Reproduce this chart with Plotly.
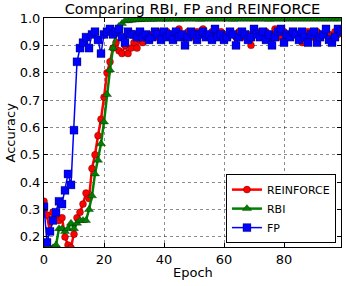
import plotly.graph_objects as go

epochs = list(range(100))

reinforce = [0.33, 0.28, 0.22, 0.29, 0.28, 0.26, 0.27, 0.20, 0.17, 0.16,
             0.21, 0.27, 0.29, 0.32, 0.36, 0.34, 0.45, 0.50, 0.57, 0.63,
             0.71, 0.80, 0.84, 0.89, 0.91, 0.88, 0.87, 0.90, 0.87, 0.89,
             0.91, 0.89, 0.92, 0.91, 0.93, 0.92, 0.94, 0.93, 0.95, 0.94,
             0.93, 0.95, 0.94, 0.93, 0.95, 0.96, 0.94, 0.93, 0.95, 0.94,
             0.93, 0.95, 0.94, 0.96, 0.93, 0.94, 0.95, 0.93, 0.94, 0.95,
             0.94, 0.93, 0.95, 0.94, 0.93, 0.95, 0.94, 0.93, 0.94, 0.90,
             0.94, 0.95, 0.93, 0.94, 0.95, 0.93, 0.94, 0.96, 0.94, 0.93,
             0.95, 0.94, 0.93, 0.95, 0.94, 0.93, 0.91, 0.94, 0.95, 0.93,
             0.94, 0.95, 0.93, 0.94, 0.96, 0.94, 0.93, 0.95, 0.94, 0.95]

rbi = [0.16, 0.16, 0.16, 0.16, 0.17, 0.23, 0.23, 0.22, 0.23, 0.25,
       0.23, 0.25, 0.26, 0.26, 0.26, 0.30, 0.35, 0.43, 0.48, 0.54,
       0.62, 0.72, 0.81, 0.89, 0.94, 0.97, 0.98, 0.99, 0.99, 0.992,
       0.993, 0.994, 0.994, 0.995, 0.995, 0.995, 0.995, 0.996, 0.995, 0.996,
       0.996, 0.995, 0.996, 0.996, 0.996, 0.995, 0.996, 0.996, 0.996, 0.996,
       0.996, 0.996, 0.995, 0.996, 0.996, 0.996, 0.996, 0.996, 0.996, 0.996,
       0.996, 0.996, 0.996, 0.995, 0.996, 0.996, 0.996, 0.996, 0.996, 0.996,
       0.996, 0.996, 0.996, 0.996, 0.996, 0.995, 0.996, 0.996, 0.996, 0.996,
       0.996, 0.996, 0.996, 0.996, 0.996, 0.996, 0.996, 0.996, 0.996, 0.996,
       0.996, 0.996, 0.996, 0.996, 0.996, 0.996, 0.996, 0.996, 0.996, 0.996]

fp = [0.31, 0.18, 0.22, 0.26, 0.29, 0.33, 0.32, 0.37, 0.43, 0.39,
      0.59, 0.84, 0.89, 0.91, 0.93, 0.89, 0.94, 0.95, 0.92, 0.87,
      0.94, 0.95, 0.96, 0.94, 0.95, 0.96, 0.93, 0.91, 0.95, 0.94,
      0.94, 0.93, 0.95, 0.93, 0.94, 0.92, 0.93, 0.95, 0.94, 0.92,
      0.95, 0.93, 0.94, 0.92, 0.95, 0.93, 0.94, 0.90, 0.93, 0.95,
      0.94, 0.92, 0.94, 0.95, 0.93, 0.94, 0.92, 0.96, 0.93, 0.94,
      0.92, 0.93, 0.95, 0.94, 0.90, 0.93, 0.95, 0.94, 0.92, 0.93,
      0.96, 0.94, 0.93, 0.95, 0.92, 0.94, 0.90, 0.93, 0.95, 0.96,
      0.91, 0.94, 0.93, 0.95, 0.94, 0.92, 0.95, 0.93, 0.91, 0.94,
      0.95, 0.91, 0.93, 0.94, 0.96, 0.92, 0.91, 0.93, 0.96, 0.95]

x_ticks = [0, 20, 40, 60, 80]
x_tick_labels = ["0", "20", "40", "60", "80"]
y_ticks = [0.2, 0.3, 0.4, 0.5, 0.6, 0.7, 0.8, 0.9, 1.0]
y_tick_labels = ["0.2", "0.3", "0.4", "0.5", "0.6", "0.7", "0.8", "0.9", "1.0"]

FONT = "DejaVu Sans"
edge = dict(color="rgba(0,0,0,0.6)", width=0.5)

W, H = 346, 286
ML, MR, MT, MB = 44, 5, 18, 39
plot_h = H - MT - MB
plot_w = W - ML - MR

fig = go.Figure()
fig.add_trace(go.Scatter(x=epochs, y=reinforce, name="REINFORCE", mode="lines+markers",
                         line=dict(color="#ff0000", width=2.5),
                         marker=dict(symbol="circle", size=7, color="#ff0000", line=edge)))
fig.add_trace(go.Scatter(x=epochs, y=rbi, name="RBI", mode="lines+markers",
                         line=dict(color="#008000", width=2.5),
                         marker=dict(symbol="triangle-up", size=8, color="#008000", line=edge)))
fig.add_trace(go.Scatter(x=epochs, y=fp, name="FP", mode="lines+markers",
                         line=dict(color="#0000ff", width=1.5),
                         marker=dict(symbol="square", size=8, color="#0000ff", line=edge)))

axis_common = dict(showline=True, linecolor="black", linewidth=1, mirror="ticks",
                   ticks="inside", ticklen=4, tickcolor="black", automargin=False,
                   showgrid=True, gridcolor="rgba(0,0,0,0.45)", griddash="dot", gridwidth=1,
                   zeroline=False, tickfont=dict(family=FONT, size=13, color="black"))

fig.update_xaxes(range=[0, 99], tickvals=x_ticks, ticktext=x_tick_labels, **axis_common)
fig.update_yaxes(range=[0.163, 1.0], tickvals=y_ticks, ticktext=y_tick_labels, **axis_common)

fig.update_layout(
    width=W, height=H, autosize=False,
    margin=dict(l=ML, r=MR, t=MT, b=MB),
    paper_bgcolor="white", plot_bgcolor="white",
    font=dict(family=FONT, color="black"),
    title=dict(text="Comparing RBI, FP and REINFORCE", x=0.5, xref="paper",
               y=1 - 9 / H, yref="container", yanchor="middle", xanchor="center",
               font=dict(family=FONT, size=14.6, color="black")),
    legend=dict(x=0.983, y=0.017, xanchor="right", yanchor="bottom",
                bgcolor="white", bordercolor="black", borderwidth=1,
                font=dict(family=FONT, size=11, color="black"),
                itemwidth=30, tracegroupgap=0),
    showlegend=True,
    annotations=[
        dict(text="Epoch", x=0.5, xref="paper", xanchor="center",
             y=-(272 - (H - MB)) / plot_h, yref="paper", yanchor="middle", showarrow=False,
             font=dict(family=FONT, size=13, color="black")),
        dict(text="Accuracy", textangle=-90, x=-(ML - 10) / plot_w, xref="paper", xanchor="center",
             y=0.5, yref="paper", yanchor="middle", showarrow=False,
             font=dict(family=FONT, size=13, color="black")),
    ],
)

fig.write_html("out.html", config={"displayModeBar": False},
               post_script="document.body.style.margin='0';")
